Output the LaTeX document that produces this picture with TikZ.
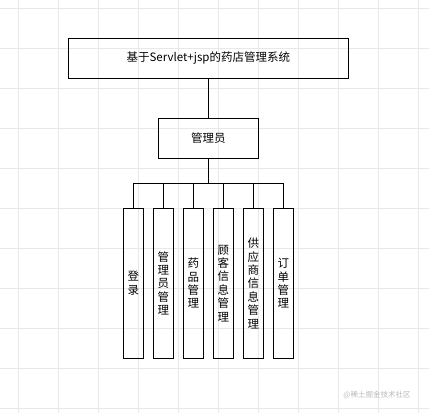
\documentclass[tikz,border=0pt]{standalone}
\usepackage{fontspec}
\newfontfamily\cjk{Noto Sans CJK SC}
\usetikzlibrary{positioning}

\begin{document}
\begin{tikzpicture}[
    x=1pt,
    y=-1pt,
    node distance=40pt,
    box/.style={
        draw,
        line width=0.8pt,
        align=center,
        inner sep=0pt,
        outer sep=0pt,
        font=\cjk\fontsize{11.5}{13.4}\selectfont
    },
    titlebox/.style={
        box,
        minimum width=280pt,
        minimum height=40pt
    },
    rolebox/.style={
        box,
        minimum width=100pt,
        minimum height=40pt
    },
    funcbox/.style={
        box,
        minimum width=20pt,
        minimum height=150pt
    },
    link/.style={
        line width=0.8pt
    },
    gridline/.style={
        draw=black!9,
        line width=0.6pt
    }
]

\useasboundingbox (0,0) rectangle (429,413);

% background grid
\foreach \gx in {18,58,...,418}
    \draw[gridline] (\gx,0) -- (\gx,413);
\foreach \gy in {8,48,...,408}
    \draw[gridline] (0,\gy) -- (429,\gy);

\node[titlebox] (system) at (208.3,58.3) {基于Servlet+jsp的药店管理系统};
\node[rolebox, below=of system] (admin) {管理员};

\node[funcbox, below=50pt of admin, xshift=-75pt] (login) {登\\录};
\node[funcbox, right=10pt of login] (adminmgmt) {管\\理\\员\\管\\理};
\node[funcbox, right=10pt of adminmgmt] (drugmgmt) {药\\品\\管\\理};
\node[funcbox, right=10pt of drugmgmt] (customer) {顾\\客\\信\\息\\管\\理};
\node[funcbox, right=10pt of customer] (supplier) {供\\应\\商\\信\\息\\管\\理};
\node[funcbox, right=10pt of supplier] (order) {订\\单\\管\\理};

\draw[link] (system) -- (admin);
\draw[link] (admin.south) -- ++(0,-25pt) -| (login.north);
\draw[link] (admin.south) -- ++(0,-25pt) -| (adminmgmt.north);
\draw[link] (admin.south) -- ++(0,-25pt) -| (drugmgmt.north);
\draw[link] (admin.south) -- ++(0,-25pt) -| (customer.north);
\draw[link] (admin.south) -- ++(0,-25pt) -| (supplier.north);
\draw[link] (admin.south) -- ++(0,-25pt) -| (order.north);

\node[font=\cjk\fontsize{7.5}{9}\selectfont, text=black!28] (mark) at (377,395) {@稀土掘金技术社区};

\end{tikzpicture}
\end{document}
